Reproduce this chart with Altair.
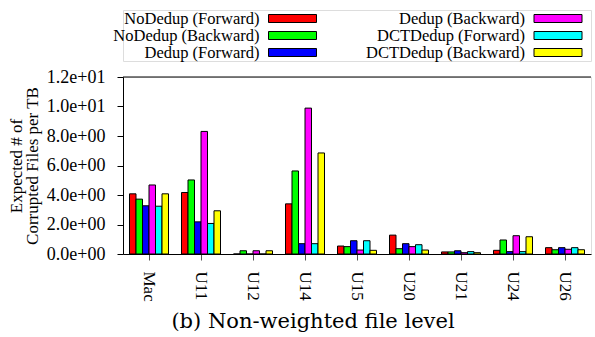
import altair as alt
import pandas as pd

categories = ["Mac", "U11", "U12", "U14", "U15", "U20", "U21", "U24", "U26"]
series = ["NoDedup (Forward)", "NoDedup (Backward)", "Dedup (Forward)",
          "Dedup (Backward)", "DCTDedup (Forward)", "DCTDedup (Backward)"]
colors = ["#ff0000", "#00ff00", "#0000ff", "#ff00ff", "#00ffff", "#ffff00"]

nodedup_fwd = [4.08, 4.17, 0.0, 3.40, 0.54, 1.28, 0.14, 0.25, 0.43]
nodedup_bwd = [3.72, 5.02, 0.22, 5.63, 0.50, 0.36, 0.14, 0.95, 0.29]
dedup_fwd = [3.27, 2.18, 0.0, 0.70, 0.90, 0.70, 0.22, 0.16, 0.43]
dedup_bwd = [4.68, 8.31, 0.22, 9.89, 0.27, 0.50, 0.09, 1.24, 0.32]
dct_fwd = [3.24, 2.07, 0.0, 0.70, 0.90, 0.63, 0.16, 0.16, 0.43]
dct_bwd = [4.08, 2.93, 0.22, 6.85, 0.25, 0.27, 0.09, 1.17, 0.29]

all_vals = [nodedup_fwd, nodedup_bwd, dedup_fwd, dedup_bwd, dct_fwd, dct_bwd]
rows = []
for s, vals in zip(series, all_vals):
    for c, v in zip(categories, vals):
        rows.append({"Trace": c, "Series": s, "Value": v})
df = pd.DataFrame(rows)

leg = pd.DataFrame({"Series": series,
                    "col": [i // 3 for i in range(len(series))],
                    "row": [i % 3 for i in range(len(series))]})

SERIF = "Liberation Serif"
W, H = 468, 177

color_scale = alt.Scale(domain=series, range=colors)

bars = alt.Chart(df).mark_bar(stroke="black", strokeWidth=1).encode(
    x=alt.X("Trace:N", sort=categories,
            scale=alt.Scale(paddingInner=0.25, paddingOuter=0.125),
            axis=alt.Axis(title=None, labelAngle=90, labelFontSize=17, labelFont=SERIF,
                          labelPadding=11, tickSize=6, tickColor="#555",
                          domainColor="black", labelColor="black")),
    xOffset=alt.XOffset("Series:N", sort=series,
                        scale=alt.Scale(paddingInner=0, paddingOuter=0)),
    y=alt.Y("Value:Q", scale=alt.Scale(domain=[0, 12]),
            axis=alt.Axis(title=["Expected # of", "Corrupted Files per TB"],
                          values=[0, 2, 4, 6, 8, 10, 12], grid=False,
                          labelExpr="datum.value >= 10 ? format(datum.value/10, '.1f') + 'e+01' : format(datum.value, '.1f') + 'e+00'",
                          labelFontSize=18, labelFont=SERIF, labelPadding=12,
                          tickSize=6, tickColor="black", domainColor="black",
                          labelColor="black", titleFont=SERIF, titleFontSize=17,
                          titleFontWeight="normal", titleLineHeight=16,
                          titlePadding=5, titleColor="black")),
    color=alt.Color("Series:N", scale=color_scale, legend=None),
)

top_rule = alt.Chart(pd.DataFrame({"a": [0]})).mark_rule(color="black", strokeWidth=1).encode(
    x=alt.value(0), x2=alt.value(W), y=alt.value(0))

main = alt.layer(bars, top_rule).properties(
    width=W, height=H,
    title=alt.TitleParams("(b) Non-weighted file level", orient="bottom",
                          font="DejaVu Serif", fontSize=21, fontWeight="normal",
                          color="black", dx=-44, offset=10))

leg_x = alt.X("col:Q", scale=alt.Scale(domain=[0, 1], range=[169.5, 435]), axis=None)
leg_y = alt.Y("row:O", scale=alt.Scale(type="point", padding=0.5), axis=None)

swatch = alt.Chart(leg).mark_rect(width=48, height=8, stroke="black", strokeWidth=1).encode(
    x=leg_x, y=leg_y, color=alt.Color("Series:N", scale=color_scale, legend=None))
labels = alt.Chart(leg).mark_text(align="right", baseline="middle", dx=-33,
                                  font=SERIF, fontSize=16.5, color="black").encode(
    x=leg_x, y=leg_y, text="Series:N")
legend = alt.layer(swatch, labels).properties(width=W, height=51)

chart = alt.vconcat(legend, main, spacing=5).properties(
    padding={"left": 6, "top": 9, "right": 0, "bottom": 0}
).configure_view(stroke=None).configure(font=SERIF)

chart.save("out.html", embed_options={"renderer": "svg", "actions": False})
